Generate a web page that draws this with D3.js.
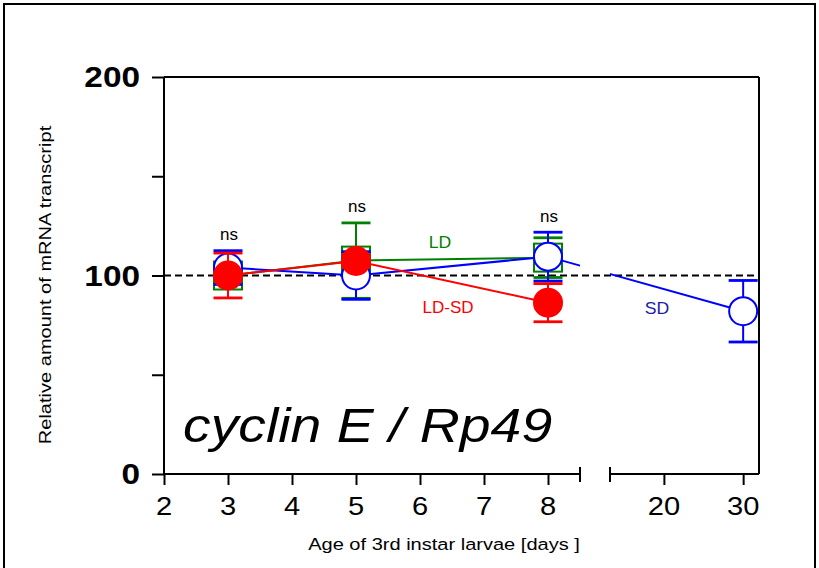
<!DOCTYPE html>
<html>
<head>
<meta charset="utf-8">
<script src="https://cdn.jsdelivr.net/npm/d3@7"></script>
<style>
  html, body { margin: 0; padding: 0; background: #fff; }
  svg { display: block; font-family: "Liberation Sans", Arial, Helvetica, sans-serif; }
</style>
</head>
<body>
<svg id="chart" width="819" height="568"></svg>
<script>
// Relative cyclin E / Rp49 transcript levels over 3rd-instar larval age
const ldDays = [3, 5, 8];
const ldMean = [100, 107.5, 109];
const ldErr  = [3, 19, 10];

const sdDays = [3, 5, 8, 30];
const sdMean = [104, 100, 109.5, 82];
const sdErr  = [8.5, 12, 12.3, 15.5];

const ldsdDays = [3, 5, 8];
const ldsdMean = [100, 107.3, 86.3];
const ldsdErr  = [11.3, 3, 9.6];

const nsDays = [3, 5, 8];
const nsTop  = [113, 127, 122];

const xTicksA = [2, 3, 4, 5, 6, 7, 8];
const xTicksB = [20, 30];
const yTicks = [0, 50, 100, 150, 200];
const yLabels = [0, 100, 200];

const svg = d3.select("#chart");

// outer frame
svg.append("rect").attr("x", 4).attr("y", 4).attr("width", 811).attr("height", 600)
  .attr("fill", "none").attr("stroke", "#000").attr("stroke-width", 2);

// broken x axis: two linear segments
const xA = d3.scaleLinear().domain([2, 8.5]).range([164, 580]);
const xB = d3.scaleLinear().domain([13.2, 32]).range([610, 759]);
const xPos = d => d <= 8.5 ? xA(d) : xB(d);
const y = d3.scaleLinear().domain([0, 200]).range([474, 77]);

const left = xA.range()[0], right = xB.range()[1];

// text helper with optional horizontal stretch
function label(x, yy, s, o) {
  const t = svg.append("text")
    .attr("transform", `translate(${x},${yy}) rotate(${o.rot || 0}) scale(${o.sx || 1},1)`)
    .attr("text-anchor", o.anchor || "middle")
    .attr("font-size", o.size)
    .attr("fill", o.color || "#000")
    .text(s);
  if (o.bold) t.attr("font-weight", "bold");
  if (o.italic) t.attr("font-style", "italic");
  return t;
}

// top and right frame of plot
svg.append("line").attr("x1", left).attr("x2", right).attr("y1", y(200)).attr("y2", y(200))
  .attr("stroke", "#000").attr("stroke-width", 2);
svg.append("line").attr("x1", right).attr("x2", right).attr("y1", y(200)).attr("y2", y(0))
  .attr("stroke", "#000").attr("stroke-width", 2);

// y axis
const yAxis = svg.append("g").attr("transform", `translate(${left},0)`)
  .call(d3.axisLeft(y).tickValues(yTicks).tickSize(12).tickFormat(""));
yAxis.select(".domain").attr("stroke-width", 2).attr("d", `M0,${y(200)}V${y(0)}`);
yAxis.selectAll(".tick line").attr("stroke-width", 2);
yLabels.forEach(v => label(140, y(v) + 10, String(v), { size: 29, bold: true, anchor: "end", sx: 1.15 }));

// x axis, left segment
const gA = svg.append("g").attr("transform", `translate(0,${y(0)})`)
  .call(d3.axisBottom(xA).tickValues(xTicksA).tickSize(11).tickFormat(""));
gA.select(".domain").attr("stroke-width", 2).attr("d", `M${left},0H${xA(8.5)}`);
gA.selectAll(".tick line").attr("stroke-width", 2);
// x axis, right segment
const gB = svg.append("g").attr("transform", `translate(0,${y(0)})`)
  .call(d3.axisBottom(xB).tickValues(xTicksB).tickSize(11).tickFormat(""));
gB.select(".domain").attr("stroke-width", 2).attr("d", `M${xB(13.2)},0H${right}`);
gB.selectAll(".tick line").attr("stroke-width", 2);
// break caps
[xA(8.5), xB(13.2)].forEach(px => {
  svg.append("line").attr("x1", px).attr("x2", px).attr("y1", y(0) - 7).attr("y2", y(0) + 8)
    .attr("stroke", "#000").attr("stroke-width", 2);
});
xTicksA.forEach(v => label(xA(v), 515, String(v), { size: 26, sx: 1.12 }));
xTicksB.forEach(v => label(xB(v), 515, String(v), { size: 26, sx: 1.12 }));

// axis titles
label(444, 550, "Age of 3rd instar larvae [days ]", { size: 16.7, sx: 1.2 });
label(51, 285, "Relative amount of mRNA transcript", { size: 16.7, sx: 1.2, rot: -90 });

// reference line at 100 %
svg.append("line").attr("x1", left).attr("x2", right).attr("y1", y(100)).attr("y2", y(100))
  .attr("stroke", "#000").attr("stroke-width", 2).attr("stroke-dasharray", "7,4");

// clip out the axis break for connecting lines
const defs = svg.append("defs");
const cp = defs.append("clipPath").attr("id", "gap");
cp.append("rect").attr("x", 0).attr("y", 0).attr("width", xA(8.5)).attr("height", 568);
cp.append("rect").attr("x", xB(13.2)).attr("y", 0).attr("width", 819).attr("height", 568);

function series(days, mean, err, color, marker) {
  const pts = days.map((d, i) => ({ d, m: mean[i], e: err[i] }));
  const g = svg.append("g");
  g.append("path").datum(pts)
    .attr("d", d3.line().x(p => xPos(p.d)).y(p => y(p.m)))
    .attr("fill", "none").attr("stroke", color).attr("stroke-width", 2)
    .attr("clip-path", "url(#gap)");
  const cap = 14.5;
  pts.forEach(p => {
    const cx = xPos(p.d);
    g.append("line").attr("x1", cx).attr("x2", cx).attr("y1", y(p.m + p.e)).attr("y2", y(p.m - p.e))
      .attr("stroke", color).attr("stroke-width", 2);
    [p.m + p.e, p.m - p.e].forEach(v => g.append("line")
      .attr("x1", cx - cap).attr("x2", cx + cap).attr("y1", y(v)).attr("y2", y(v))
      .attr("stroke", color).attr("stroke-width", 2.8));
  });
  pts.forEach(p => {
    const cx = xPos(p.d), cy = y(p.m);
    if (marker === "square") {
      g.append("rect").attr("x", cx - 14).attr("y", cy - 14).attr("width", 28).attr("height", 28)
        .attr("fill", "none").attr("stroke", color).attr("stroke-width", 2);
    } else if (marker === "open") {
      g.append("circle").attr("cx", cx).attr("cy", cy).attr("r", 14)
        .attr("fill", "#fff").attr("stroke", color).attr("stroke-width", 2);
    } else {
      g.append("circle").attr("cx", cx).attr("cy", cy).attr("r", 15).attr("fill", color);
    }
  });
}

series(ldDays, ldMean, ldErr, "#008000", "square");
series(sdDays, sdMean, sdErr, "#0000ff", "open");
series(ldsdDays, ldsdMean, ldsdErr, "#ff0000", "filled");

// significance marks
nsDays.forEach((d, i) => label(xPos(d) + 1, y(nsTop[i]) - 10, "ns", { size: 17 }));

// series names
label(440, 248, "LD", { size: 16.3, color: "#008000", sx: 1.08 });
label(448, 313, "LD-SD", { size: 17 , color: "#ff0000" });
label(657, 314, "SD", { size: 16.3, color: "#1c1ca8", sx: 1.08 });

// gene label
label(183, 442, "cyclin E / Rp49", { size: 49, italic: true, anchor: "start", sx: 1.13 });
</script>
</body>
</html>
